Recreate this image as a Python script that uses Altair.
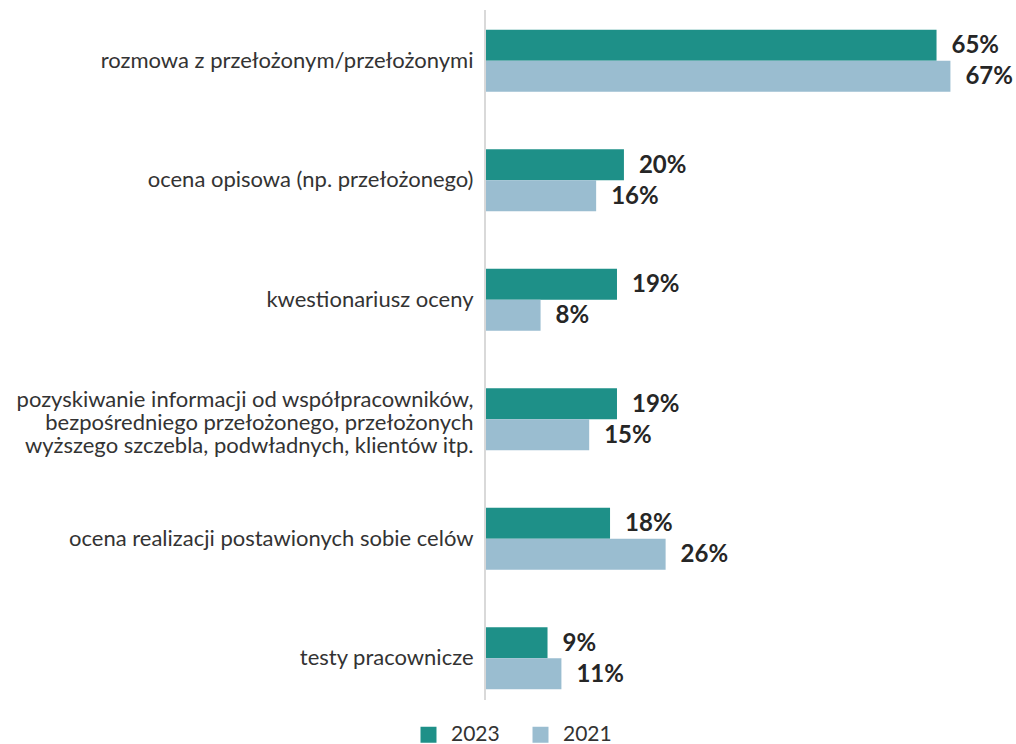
import altair as alt
import pandas as pd

categories = [
    "rozmowa z przełożonym/przełożonymi",
    "ocena opisowa (np. przełożonego)",
    "kwestionariusz oceny",
    "pozyskiwanie informacji od współpracowników,|bezpośredniego przełożonego, przełożonych|wyższego szczebla, podwładnych, klientów itp.",
    "ocena realizacji postawionych sobie celów",
    "testy pracownicze",
]
years = ["2023", "2021"]
v2023 = [65, 20, 19, 19, 18, 9]
v2021 = [67, 16, 8, 15, 26, 11]
colors = ["#1e9088", "#9abdd0"]

rows = []
for c, a, b in zip(categories, v2023, v2021):
    rows.append({"cat": c, "year": "2023", "value": a, "label": f"{a}%"})
    rows.append({"cat": c, "year": "2021", "value": b, "label": f"{b}%"})
df = pd.DataFrame(rows)

FONT = "Lato"

y_enc = alt.Y(
    "cat:N",
    sort=categories,
    scale=alt.Scale(paddingInner=0.48, paddingOuter=0.24),
    axis=alt.Axis(
        title=None,
        domain=False,
        ticks=False,
        grid=False,
        labelPadding=12,
        labelFontSize=22,
        labelFont=FONT,
        labelColor="#333333",
        labelLimit=700,
        labelLineHeight=23,
        labelOffset={"condition": {"test": "indexof(datum.value, '|') >= 0", "value": -19}, "value": 0},
        labelExpr="split(datum.label, '|')",
    ),
)
yoff = alt.YOffset("year:N", sort=years, scale=alt.Scale(paddingInner=0, paddingOuter=0))
x_enc = alt.X("value:Q", scale=alt.Scale(domain=[0, 75], nice=False), axis=None)

bars = alt.Chart(df).mark_bar().encode(
    x=x_enc,
    y=y_enc,
    yOffset=yoff,
    color=alt.Color(
        "year:N",
        sort=years,
        scale=alt.Scale(domain=years, range=colors),
        legend=alt.Legend(
            title=None,
            orient="none",
            legendX=-67,
            legendY=723,
            direction="horizontal",
            symbolType="square",
            symbolSize=256,
            symbolStrokeWidth=0,
            labelFontSize=21,
            labelFont=FONT,
            labelColor="#333333",
            labelOffset=12,
            columnPadding=30,
        ),
    ),
)

text = alt.Chart(df).mark_text(
    align="left", baseline="middle", dx=15, dy=1, fontSize=24, fontWeight="bold", font=FONT, color="#262626"
).encode(x=x_enc, y=alt.Y("cat:N", sort=categories), yOffset=yoff, text="label:N")

axis_line = alt.Chart(df).mark_rule(color="#d9d9d9", strokeWidth=1.5).encode(
    x=alt.value(0), y=alt.value(9), y2=alt.value(699)
)

chart = (
    alt.layer(bars, text, axis_line)
    .properties(
        width=521,
        height=717,
        background="white",
        autosize=alt.AutoSizeParams(type="none"),
        padding={"left": 485, "top": 1, "right": 10, "bottom": 26},
    )
    .configure_view(stroke="transparent", strokeWidth=0)
)

chart.save("out.html", embed_options={"renderer": "svg", "actions": False})
